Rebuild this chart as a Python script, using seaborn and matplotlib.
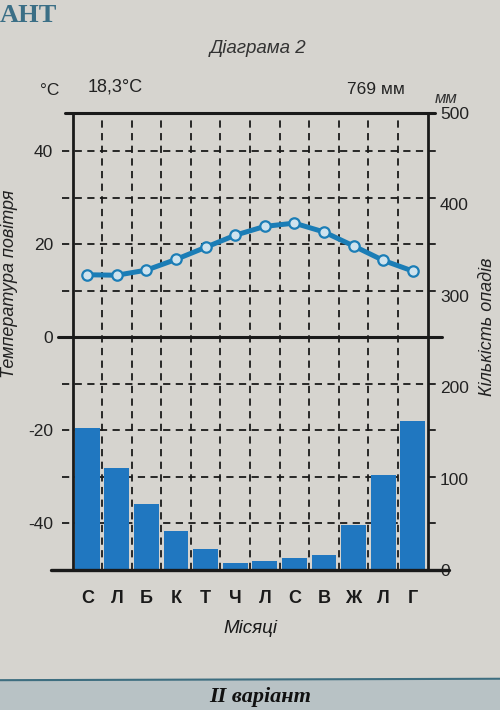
import numpy as np
import pandas as pd
import matplotlib
matplotlib.use("Agg")
import matplotlib.pyplot as plt
import seaborn as sns

# ---- data ----
months = ["С", "Л", "Б", "К", "Т", "Ч", "Л", "С", "В", "Ж", "Л", "Г"]
temperature = [13.4, 13.3, 14.4, 16.7, 19.3, 21.9, 23.8, 24.5, 22.6, 19.6, 16.5, 14.2]
precipitation = [155, 112, 72, 43, 23, 8, 10, 13, 17, 49, 104, 163]
temp_ticks = [40, 20, 0, -20, -40]
prec_ticks = [500, 400, 300, 200, 100, 0]
mean_temp_label = "18,3°C"
total_prec_label = "769 мм"

PAPER = "#d6d4cf"
BAR = "#2077c0"
LINE = "#1b7db6"
INK = "#1a1a1a"

sns.set_theme(style="white")
plt.rcParams["font.family"] = ["Liberation Sans", "DejaVu Sans"]

fig = plt.figure(figsize=(5.0, 7.1), dpi=100, facecolor=PAPER)
ax = fig.add_axes([0.145, 0.197, 0.71, 0.644])
ax.set_facecolor(PAPER)

idx = np.arange(len(months))
df_t = pd.DataFrame({"m": idx, "t": temperature})
df_p = pd.DataFrame({"m": idx, "p": precipitation})

ax.set_xlim(-0.5, 11.5)
ax.set_ylim(-50.1, 48.2)

# dashed grid
for x in np.arange(0.5, 11.5, 1.0):
    ax.axvline(x, color=INK, lw=1.3, ls=(0, (4, 3)), zorder=1)
for y in range(-40, 50, 10):
    if y == 0:
        continue
    ax.axhline(y, color=INK, lw=1.3, ls=(0, (4, 3)), zorder=1, xmin=-0.03, xmax=1.03, clip_on=False)

# temperature line
sns.lineplot(data=df_t, x="m", y="t", ax=ax, color=LINE, lw=3.6, marker="o",
             markersize=7.5, markerfacecolor="#cfe3ee", markeredgecolor=LINE,
             markeredgewidth=1.6, zorder=4)

# bold zero line
ax.axhline(0, color=INK, lw=2.2, xmin=-0.04, xmax=1.04, clip_on=False, zorder=5)

for s in ["left", "right"]:
    ax.spines[s].set_color(INK)
    ax.spines[s].set_linewidth(2.0)
for s in ["top", "bottom"]:
    ax.spines[s].set_visible(False)

ax.set_yticks(temp_ticks)
ax.set_yticklabels([str(v) for v in temp_ticks], fontsize=12.5, color="#222222")
ax.tick_params(axis="y", length=0, pad=14)
ax.set_ylabel("")

# precipitation on twin axis
ax2 = ax.twinx()
sns.barplot(data=df_p, x="m", y="p", ax=ax2, color=BAR, saturation=1,
            width=0.84, linewidth=0, edgecolor="none", zorder=3)
ax2.set_xlim(-0.5, 11.5)
ax2.set_ylim(0, 500)
ax2.axhline(0, color=INK, lw=2.4, xmin=-0.06, xmax=1.06, clip_on=False, zorder=6)
ax2.axhline(500, color=INK, lw=2.2, xmin=-0.02, xmax=1.02, clip_on=False, zorder=6)
ax2.set_yticks(prec_ticks)
ax2.set_yticklabels([str(v) for v in prec_ticks], fontsize=12.5, color="#222222")
ax2.tick_params(axis="y", length=0, pad=9)
ax2.set_ylabel("")
ax2.set_xlabel("")
for s in ax2.spines.values():
    s.set_visible(False)

# month labels on the visible (primary) x axis
ax.set_xticks(idx)
ax.set_xticklabels(months, fontsize=13, fontweight="bold", color=INK)
ax.tick_params(axis="x", length=0, pad=14)
ax.set_xlabel("Місяці", fontsize=13.5, style="italic", color=INK, labelpad=10)
ax.set_xlim(-0.5, 11.5)

# texts
fig.text(0.516, 0.932, "Діаграма 2", fontsize=13.5, style="italic", color="#333333", ha="center", va="center")
fig.text(0.0, 0.978, "АНТ", fontsize=19, fontweight="bold", family=["Liberation Serif"],
         color="#3b6f86", ha="left", va="center")
fig.text(0.1, 0.872, "°C", fontsize=12.5, color="#222222", ha="center", va="center")
fig.text(0.176, 0.877, mean_temp_label, fontsize=13, color="#222222", ha="left", va="center")
fig.text(0.81, 0.874, total_prec_label, fontsize=12.5, color="#222222", ha="right", va="center")
fig.text(0.892, 0.861, "мм", fontsize=12, style="italic", color="#333333", ha="center", va="center")
fig.text(0.02, 0.6, "Температура повітря", fontsize=13, style="italic", rotation=90,
         color="#222222", ha="center", va="center")
fig.text(0.974, 0.54, "Кількість опадів", fontsize=13, style="italic", rotation=90,
         color="#222222", ha="center", va="center")

# bottom band
fig.patches.append(plt.Rectangle((0, 0), 1, 0.042, transform=fig.transFigure,
                                 facecolor="#b8c2c5", edgecolor="none", zorder=0))
fig.lines.append(plt.Line2D([0, 1], [0.042, 0.044], transform=fig.transFigure,
                            color="#3e6e80", lw=1.5))
fig.text(0.52, 0.004, "II варіант", fontsize=16, fontweight="bold", style="italic",
         family=["Liberation Serif"], color="#111111", ha="center", va="bottom")

fig.savefig("out.png", dpi=100, facecolor=PAPER)
